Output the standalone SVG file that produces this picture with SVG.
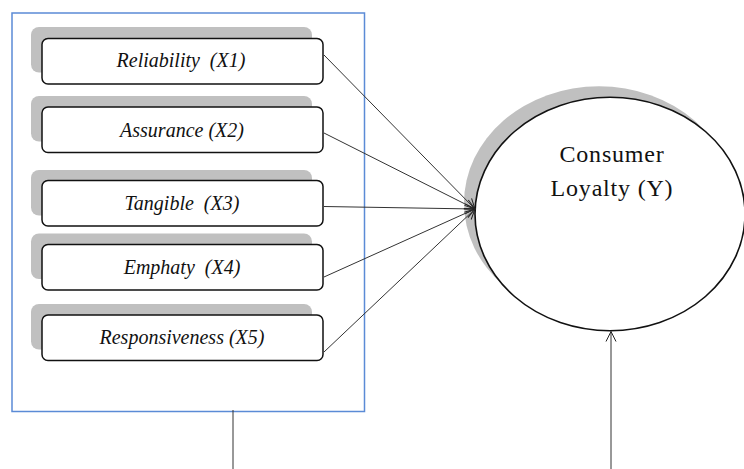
<svg xmlns="http://www.w3.org/2000/svg" width="744" height="469" viewBox="0 0 744 469">
<defs>
<style>
.shadow{fill:#c0c0c0;stroke:none}
.box{fill:#fff;stroke:#111;stroke-width:1.5}
.lbl{font-family:"Liberation Serif",serif;font-style:italic;font-size:20px;fill:#111;text-anchor:middle;white-space:pre}
.big{font-family:"Liberation Serif",serif;font-size:24px;letter-spacing:0.8px;fill:#111;text-anchor:middle}
.con{stroke:#333;stroke-width:1;fill:none}
</style>
<marker id="arr" markerUnits="userSpaceOnUse" markerWidth="14" markerHeight="14" viewBox="-12 -7 14 14" refX="0" refY="0" orient="auto">
<path d="M-10,-5 L0,0 L-10,5" fill="none" stroke="#222" stroke-width="1"/>
</marker>
</defs>
<rect width="744" height="469" fill="#fff"/>
<rect id="frame" x="12" y="13" width="352.5" height="398.5" fill="none" stroke="#5b8bd6" stroke-width="1.5"/>
<g id="x1"><rect class="shadow" x="31" y="27" width="281" height="45.5" rx="8"/><rect class="box" x="42" y="38.5" width="281" height="45.5" rx="6"/><text class="lbl" x="181" y="67" xml:space="preserve">Reliability  (X1)</text></g>
<g id="x2"><rect class="shadow" x="31" y="96" width="281" height="45.5" rx="8"/><rect class="box" x="42" y="107" width="281" height="45.5" rx="6"/><text class="lbl" x="182" y="136.5">Assurance (X2)</text></g>
<g id="x3"><rect class="shadow" x="31" y="170" width="281" height="45.5" rx="8"/><rect class="box" x="42" y="180.5" width="281" height="45.5" rx="6"/><text class="lbl" x="182" y="210" xml:space="preserve">Tangible  (X3)</text></g>
<g id="x4"><rect class="shadow" x="31" y="233.5" width="281" height="45.5" rx="8"/><rect class="box" x="42" y="244.5" width="281" height="45.5" rx="6"/><text class="lbl" x="182" y="274" xml:space="preserve">Emphaty  (X4)</text></g>
<g id="x5"><rect class="shadow" x="31" y="304" width="281" height="45.5" rx="8"/><rect class="box" x="42" y="315" width="281" height="45.5" rx="6"/><text class="lbl" x="182" y="344">Responsiveness (X5)</text></g>
<g id="y"><ellipse class="shadow" cx="599" cy="203" rx="135" ry="116.7"/><ellipse cx="610" cy="214" rx="135" ry="116.7" fill="#fff" stroke="#111" stroke-width="1.6"/><text class="big" x="612" y="162">Consumer</text><text class="big" x="612" y="196">Loyalty (Y)</text></g>
<g id="connectors">
<line class="con" x1="324" y1="55" x2="475" y2="209" marker-end="url(#arr)"/>
<line class="con" x1="324" y1="133" x2="475" y2="209" marker-end="url(#arr)"/>
<line class="con" x1="324" y1="206.5" x2="475" y2="209" marker-end="url(#arr)"/>
<line class="con" x1="324" y1="277" x2="475" y2="209" marker-end="url(#arr)"/>
<line class="con" x1="324" y1="352" x2="475" y2="209" marker-end="url(#arr)"/>
<line class="con" x1="233" y1="410" x2="233" y2="469"/>
<line class="con" x1="611" y1="469" x2="611" y2="331.5" marker-end="url(#arr)"/>
</g>
</svg>
